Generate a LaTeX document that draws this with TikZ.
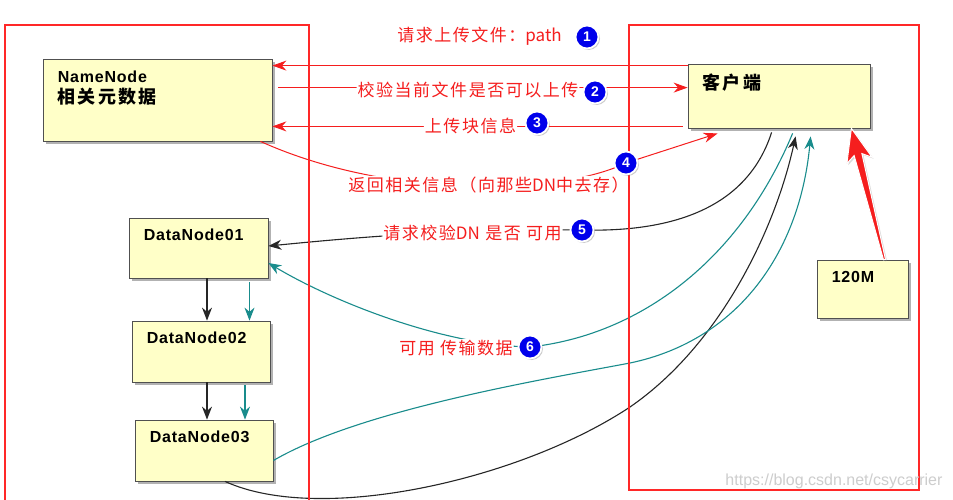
\documentclass[tikz,border=0pt]{standalone}
\usepackage{fontspec}
\usetikzlibrary{arrows.meta,shadows,calc}
\setmainfont{Liberation Sans}
\newfontfamily\cjk{Noto Sans CJK SC}[LetterSpace=9]
\newfontfamily\cjklat{Noto Sans CJK SC}
\newfontfamily\cjkbox{Noto Sans CJK SC}[LetterSpace=12]
\newfontfamily\boxfont{Liberation Sans}[LetterSpace=5]
\definecolor{lred}{RGB}{245,30,30}
\definecolor{fred}{RGB}{255,40,40}
\definecolor{lteal}{RGB}{25,140,140}
\definecolor{bfill}{RGB}{255,255,200}
\definecolor{bline}{RGB}{80,80,80}
\definecolor{nblue}{RGB}{0,0,235}
\definecolor{wm}{RGB}{205,205,205}

\begin{document}
\begin{tikzpicture}[x=1pt,y=-1pt,
    box/.style={draw=bline,fill=bfill,line width=0.8pt,drop shadow={shadow xshift=3pt,shadow yshift=-3pt,opacity=0.6}},
    boxtxt/.style={anchor=north west,align=left,inner sep=0pt,font=\boxfont\bfseries\fontsize{16}{20}\selectfont},
    lbl/.style={fill=white,inner sep=1pt,rounded corners=4pt,text=lred,font=\cjk\fontsize{17}{20}\selectfont},
    numdot/.style={circle,fill=nblue,draw=white,line width=1.8pt,minimum size=23pt,inner sep=0pt,text=white,font=\bfseries\fontsize{14}{14}\selectfont,drop shadow={shadow xshift=1.5pt,shadow yshift=-1.5pt,opacity=0.4}},
    redarr/.style={draw=lred,line width=1pt,-{Stealth[length=14pt,width=10pt]}},
    blkarr/.style={draw=black!85,line width=1.1pt,-{Stealth[length=13pt,width=10pt]}},
    tealarr/.style={draw=lteal,line width=1.1pt,-{Stealth[length=13pt,width=10pt]}},
    redframe/.style={draw=fred,line width=1.2pt}]
    \useasboundingbox[fill=white] (0,0) rectangle (953,500);

    \node[box,minimum width=229pt,minimum height=82pt,label={[boxtxt,xshift=15pt,yshift=-12pt]north west:{NameNode\\[1pt]{\cjkbox\fontsize{18}{20}\selectfont 相关元数据}}}] (nn) at (157.5,100) {};
    \node[box,minimum width=182pt,minimum height=64pt,label={[boxtxt,xshift=15pt,yshift=-10pt]north west:{\cjkbox\fontsize{18}{20}\selectfont 客户端}}] (client) at (779,96) {};
    \node[box,minimum width=139pt,minimum height=60pt,label={[boxtxt,xshift=15pt,yshift=-11pt]north west:DataNode01}] (dn1) at (198.5,248) {};
    \node[box,minimum width=138pt,minimum height=61pt,label={[boxtxt,xshift=15pt,yshift=-11pt]north west:DataNode02}] (dn2) at (201,351.5) {};
    \node[box,minimum width=138pt,minimum height=61pt,label={[boxtxt,xshift=15pt,yshift=-11pt]north west:DataNode03}] (dn3) at (204,450.5) {};
    \node[box,minimum width=91pt,minimum height=58pt,label={[boxtxt,xshift=15pt,yshift=-12pt]north west:120M}] (m120) at (862.5,289) {};

    \coordinate (p4) at (626,163);
    \coordinate (p5) at (582,230);
    \coordinate (p6) at (530,347);

    \draw[redarr] ([yshift=-2pt]client.north west) -- ([yshift=-7pt]nn.north east);
    \draw[redarr] ([xshift=6pt,yshift=-29pt]nn.north east) -- ([yshift=-24pt]client.north west);
    \draw[redarr] ([xshift=-5pt,yshift=2pt]client.south west) -- ([yshift=15pt]nn.south east);
    \draw[redarr] ([xshift=-12pt]nn.south east) .. controls (390,200) and (560,195) .. (p4) -- ([xshift=30pt,yshift=-5pt]client.south west);
    \draw[blkarr] ([xshift=84pt,yshift=-4pt]client.south west) .. controls (745,215) and (660,232) .. (p5) .. controls (450,228) and (330,240) .. ([yshift=2pt]dn1.east);
    \draw[tealarr] ([xshift=105pt,yshift=-5pt]client.south west) .. controls (740,260) and (640,335) .. (p6) .. controls (440,345) and (330,300) .. ([yshift=-15pt]dn1.east);
    \draw[blkarr] ([xshift=21pt]dn3.south) .. controls (320,525) and (520,480) .. (630,407) .. controls (720,345) and (775,230) .. ([xshift=108pt,yshift=-8pt]client.south west);
    \draw[tealarr] ([yshift=-10pt]dn3.east) .. controls (360,410) and (540,380) .. (630,363) .. controls (740,340) and (800,250) .. ([xshift=123pt,yshift=-8pt]client.south west);

    \draw[blkarr] ($(dn1.south)+(8.5,0)$) -- ($(dn1.south|-dn2.north)+(8.5,0)$);
    \draw[tealarr] ($(dn1.south)+(51,4)$) -- ($(dn1.south|-dn2.north)+(51,0)$);
    \draw[blkarr] ($(dn2.south)+(6,0)$) -- ($(dn2.south|-dn3.north)+(6,0)$);
    \draw[tealarr] ($(dn2.south)+(44,3)$) -- ($(dn2.south|-dn3.north)+(44,0)$);

    \coordinate (tp) at ([xshift=-19pt]client.south east);
    \coordinate (tl) at ([xshift=22pt]m120.north);
    \coordinate (hw) at ($(tp)!33pt!(tl)$);
    \coordinate (hj) at ($(tp)!27pt!(tl)$);
    \filldraw[fill=lred,draw=white,line width=1pt,drop shadow={shadow xshift=1.5pt,shadow yshift=-1.5pt,opacity=0.3}] (tp) -- ($(hw)!13pt!90:(tp)$) -- ($(hj)!4pt!90:(tp)$) -- ($(tl)!1pt!90:(tp)$) -- ($(tl)!1pt!-90:(tp)$) -- ($(hj)!4pt!-90:(tp)$) -- ($(hw)!13pt!-90:(tp)$) -- cycle;

    \node[lbl] (t1) at (479.5,36) {请求上传文件：{\cjklat path}};
    \node[lbl] (t2) at (468,90) {校验当前文件是否可以上传};
    \node[lbl] (t3) at (470.5,126) {上传块信息};
    \node[lbl] (t4) at (488.5,185) {返回相关信息（向那些{\cjklat DN}中去存）};
    \node[lbl] (t5) at (472.5,233) {请求校验{\cjklat DN} 是否 可用};
    \node[lbl] (t6) at (456,348) {可用 传输数据};

    \begin{scope}
    \clip (0,0) rectangle (953,500);
    \draw[redframe] (5,25) rectangle (309,510);
    \draw[redframe] (629,25) rectangle (919,490);
    \end{scope}

    \node[numdot] (c1) at (587,37) {1};
    \node[numdot] (c2) at (595,92) {2};
    \node[numdot] (c3) at (537,123) {3};
    \node[numdot] (c4) at (p4) {4};
    \node[numdot] (c5) at (p5) {5};
    \node[numdot] (c6) at (p6) {6};

    \node[text=wm,font=\fontsize{16}{16}\selectfont,anchor=east] (wmk) at (946,481) {https://blog.csdn.net/csycarrier};
\end{tikzpicture}
\end{document}
